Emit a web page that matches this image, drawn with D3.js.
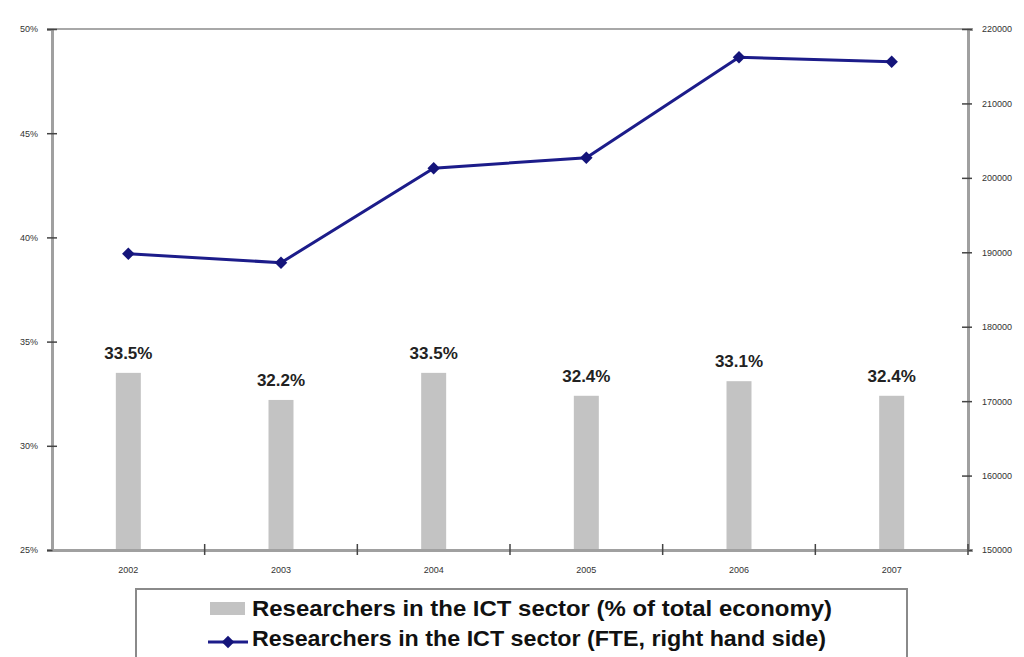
<!DOCTYPE html>
<html>
<head>
<meta charset="utf-8">
<script src="https://cdn.jsdelivr.net/npm/d3@7"></script>
<style>
  html, body { margin: 0; padding: 0; background: #fff; }
  svg { display: block; font-family: "Liberation Sans", Arial, sans-serif; }
</style>
</head>
<body>
<svg id="chart" width="1024" height="657"></svg>
<script>
const years = ["2002", "2003", "2004", "2005", "2006", "2007"];
const sharePct = [33.5, 32.2, 33.5, 32.4, 33.1, 32.4];
const fteValues = [189800, 188600, 201300, 202700, 216200, 215600];
const leftTicks = [25, 30, 35, 40, 45, 50];
const rightTicks = [150000, 160000, 170000, 180000, 190000, 200000, 210000, 220000];
const legendLabels = [
  "Researchers in the ICT sector (% of total economy)",
  "Researchers in the ICT sector (FTE, right hand side)"
];

const svg = d3.select("#chart");
const L = 52, R = 968, T = 29, B = 550;

const x = d3.scaleBand().domain(years).range([L, R]).paddingInner(0).paddingOuter(0);
const yL = d3.scaleLinear().domain([25, 50]).range([B, T]);
const yR = d3.scaleLinear().domain([150000, 220000]).range([B, T]);

// bars
const barW = 25;
svg.selectAll("rect.bar").data(sharePct).join("rect")
  .attr("class", "bar")
  .attr("x", (d, i) => x(years[i]) + x.bandwidth() / 2 - barW / 2)
  .attr("y", d => yL(d))
  .attr("width", barW)
  .attr("height", d => B - yL(d))
  .attr("fill", "#c3c3c3");

// bar labels
svg.selectAll("text.blab").data(sharePct).join("text")
  .attr("class", "blab")
  .attr("x", (d, i) => x(years[i]) + x.bandwidth() / 2)
  .attr("y", d => yL(d) - 14)
  .attr("text-anchor", "middle")
  .attr("font-size", 17)
  .attr("font-weight", "bold")
  .attr("fill", "#222")
  .text(d => d.toFixed(1) + "%");

// frame top line
svg.append("line").attr("x1", L).attr("x2", R).attr("y1", T).attr("y2", T)
  .attr("stroke", "#a8a8a8").attr("stroke-width", 2);

// left axis
const gL = svg.append("g").attr("transform", `translate(${L},0)`)
  .call(d3.axisLeft(yL).tickValues(leftTicks).tickFormat(d => d + "%").tickSize(5).tickPadding(9));
gL.select(".domain").attr("stroke", "#a0a0a0").attr("stroke-width", 3);
gL.selectAll(".tick line").attr("stroke", "#444").attr("x2", 5).attr("x1", -5).attr("stroke-width", 1.5);
gL.selectAll(".tick text").attr("font-size", 9).attr("fill", "#333");

// right axis
const gR = svg.append("g").attr("transform", `translate(${R},0)`)
  .call(d3.axisRight(yR).tickValues(rightTicks).tickFormat(d3.format("d")).tickSize(5).tickPadding(9));
gR.select(".domain").attr("stroke", "#a0a0a0").attr("stroke-width", 3);
gR.selectAll(".tick line").attr("stroke", "#444").attr("x1", -6).attr("x2", 4).attr("stroke-width", 1.5);
gR.selectAll(".tick text").attr("font-size", 9).attr("fill", "#333");

// bottom axis
const gB = svg.append("g").attr("transform", `translate(0,${B})`)
  .call(d3.axisBottom(x).tickSize(0).tickPadding(17));
gB.select(".domain").attr("stroke", "#a0a0a0").attr("stroke-width", 3);
gB.selectAll(".tick text").attr("font-size", 9).attr("fill", "#333");
// boundary ticks between categories
const bounds = years.map(y => x(y) + x.bandwidth());
gB.selectAll("line.bt").data(bounds).join("line")
  .attr("class", "bt")
  .attr("x1", d => d).attr("x2", d => d)
  .attr("y1", -6).attr("y2", 5)
  .attr("stroke", "#444").attr("stroke-width", 1.5);

// line series
const lineGen = d3.line()
  .x((d, i) => x(years[i]) + x.bandwidth() / 2)
  .y(d => yR(d));
svg.append("path").datum(fteValues)
  .attr("d", lineGen)
  .attr("fill", "none")
  .attr("stroke", "#1c1c8a")
  .attr("stroke-width", 3);

const marker = d3.symbol().type(d3.symbolSquare).size(78);
svg.selectAll("path.mk").data(fteValues).join("path")
  .attr("class", "mk")
  .attr("transform", (d, i) => `translate(${x(years[i]) + x.bandwidth() / 2},${yR(d)}) rotate(45)`)
  .attr("d", marker)
  .attr("fill", "#14147a");

// legend
const lg = svg.append("g");
lg.append("rect").attr("x", 136).attr("y", 589).attr("width", 771).attr("height", 80)
  .attr("fill", "#fff").attr("stroke", "#8a8a8a").attr("stroke-width", 2);
lg.append("rect").attr("x", 210).attr("y", 602).attr("width", 35).attr("height", 13)
  .attr("fill", "#c3c3c3");
lg.append("line").attr("x1", 208).attr("x2", 248).attr("y1", 642).attr("y2", 642)
  .attr("stroke", "#1c1c8a").attr("stroke-width", 3);
lg.append("path").attr("transform", "translate(228,642) rotate(45)").attr("d", marker).attr("fill", "#14147a");
lg.selectAll("text.lt").data(legendLabels).join("text")
  .attr("class", "lt")
  .attr("x", 252)
  .attr("y", (d, i) => 616 + i * 30)
  .attr("font-size", 22)
  .attr("font-weight", "bold")
  .attr("fill", "#111")
  .attr("textLength", (d, i) => i === 0 ? 580 : 574)
  .attr("lengthAdjust", "spacingAndGlyphs")
  .text(d => d);
</script>
</body>
</html>
